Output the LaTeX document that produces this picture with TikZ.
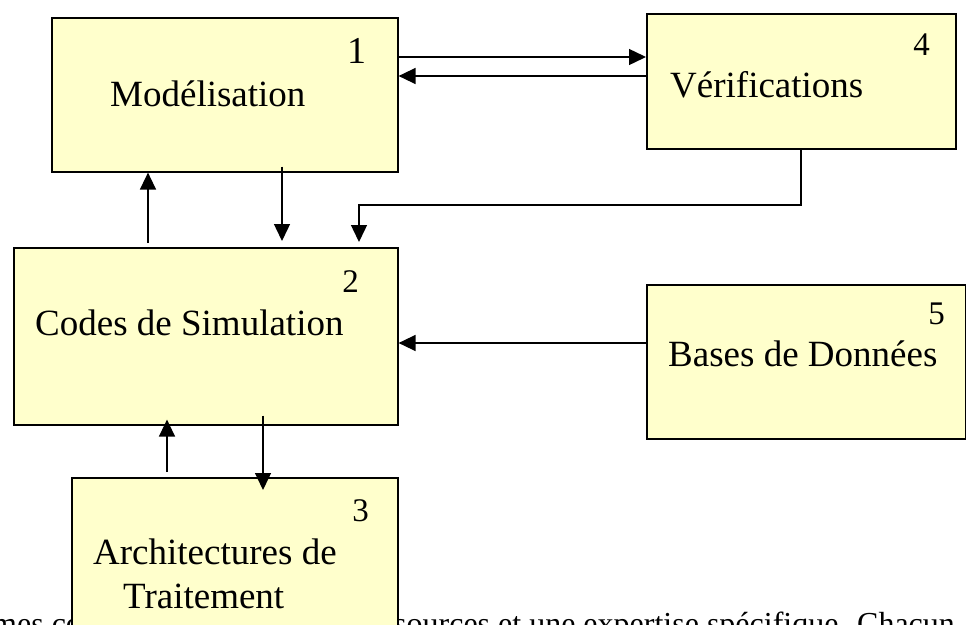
\documentclass[tikz,border=0pt]{standalone}
\usepackage{fontspec}
\setmainfont{Liberation Serif}
\usetikzlibrary{arrows.meta}
\definecolor{boxyellow}{HTML}{FFFFCC}

\begin{document}
\begin{tikzpicture}[x=1pt, y=-1pt,
    box/.style={draw, line width=1.6pt, fill=boxyellow, inner sep=0pt, anchor=north west},
    lbl/.style={font=\fontsize{37}{40}\selectfont, anchor=base west, inner sep=0pt},
    num/.style={font=\fontsize{33}{36}\selectfont, anchor=base east, inner sep=0pt},
    body/.style={font=\fontsize{32}{36}\selectfont, anchor=base west, inner sep=0pt},
    arr/.style={-{Triangle[length=17pt,width=16pt]}, line width=1.4pt}]
      \useasboundingbox (0,0) rectangle (966,624);
      \clip (0,0) rectangle (966,624);

      \node [body] (textleft) at (-8,634) {mes co};
      \node [body] (textright) at (394,634) {sources et une expertise spécifique. Chacun};

      \node [box, minimum width=346pt, minimum height=154pt] (model) at (51,17) {};
      \node [box, minimum width=309pt, minimum height=135pt] (verif) at (646,13) {};
      \node [box, minimum width=384pt, minimum height=177pt] (simul) at (13,247) {};
      \node [box, minimum width=319pt, minimum height=154pt] (bases) at (646,284) {};
      \node [box, minimum width=326pt, minimum height=200pt] (archi) at (71,477) {};

      \node [lbl] (modeltxt) at (110,106) {Modélisation};
      \node [lbl] (veriftxt) at (670,97) {Vérifications};
      \node [lbl] (simultxt) at (35,335) {Codes de Simulation};
      \node [lbl] (basestxt) at (668,366) {Bases de Données};
      \node [lbl] (architxta) at (93,564) {Architectures de};
      \node [lbl] (architxtb) at (123,608) {Traitement};

      \node [num, font=\fontsize{38}{40}\selectfont] (modelnum) at (367,63) {1};
      \node [num] (simulnum) at (359,292) {2};
      \node [num] (archinum) at (369,521) {3};
      \node [num] (verifnum) at (930,55) {4};
      \node [num] (basesnum) at (945,324) {5};

      \coordinate (bend) at (359,205);

      \draw [arr] ([yshift=-40pt]model.north east) -- ([yshift=-44pt]verif.north west);
      \draw [arr] ([yshift=-63pt]verif.north west) -- ([yshift=-59pt]model.north east);
      \draw [arr, shorten <=4pt] ([xshift=135pt]simul.north west) -- ([xshift=97pt]model.south west);
      \draw [arr, shorten >=6pt] ([xshift=231pt,yshift=6pt]model.south west) -- ([xshift=269pt]simul.north west);
      \draw [arr, shorten >=5pt] ([xshift=155pt]verif.south west) |- (bend) -- ([xshift=346pt]simul.north west);
      \draw [arr] ([yshift=-59pt]bases.north west) -- ([yshift=-96pt]simul.north east);
      \draw [arr, shorten <=5pt, shorten >=-6pt] ([xshift=96pt]archi.north west) -- ([xshift=154pt]simul.south west);
      \draw [arr, shorten >=-13pt] ([xshift=250pt,yshift=10pt]simul.south west) -- ([xshift=192pt]archi.north west);
\end{tikzpicture}
\end{document}
